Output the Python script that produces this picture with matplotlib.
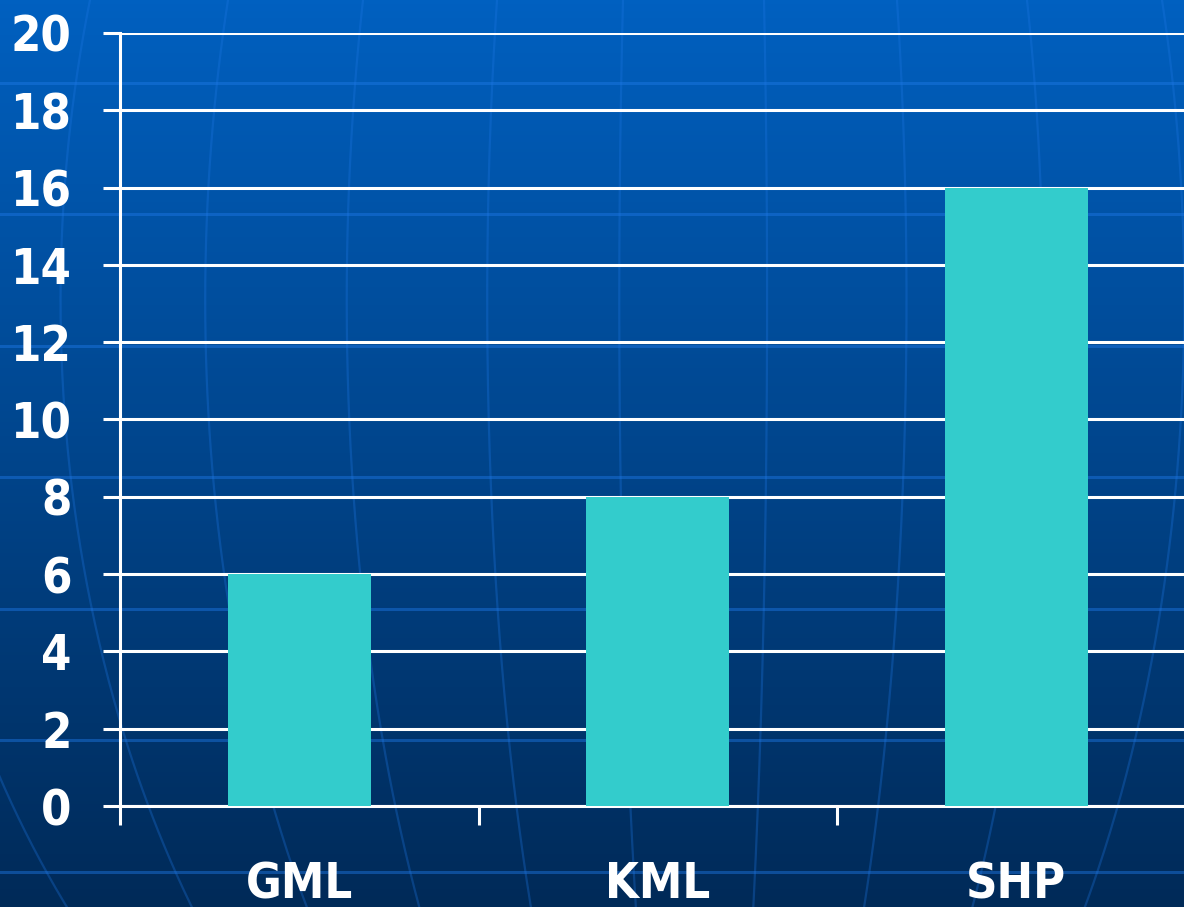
import numpy as np
import matplotlib
matplotlib.use("Agg")
import matplotlib.pyplot as plt
from matplotlib import font_manager

# Data
categories = ["GML", "KML", "SHP"]
values = [6, 8, 16]
y_ticks = [0, 2, 4, 6, 8, 10, 12, 14, 16, 18, 20]

W, H = 1184, 907
fig = plt.figure(figsize=(W / 100, H / 100), dpi=100)

# Background: blue gradient with a faint globe grid
bg = fig.add_axes([0, 0, 1, 1], zorder=-1)
grad = np.linspace(0, 1, 256).reshape(-1, 1)
top = np.array([0x00, 0x60, 0xC0]) / 255
bot = np.array([0x00, 0x2A, 0x58]) / 255
img = top + (bot - top) * grad[..., None]
bg.imshow(img, extent=[0, W, H, 0], aspect="auto")
for yy in [83, 214, 346, 477, 609, 740, 872]:
    bg.plot([0, W], [yy, yy], color="#1E78E6", alpha=0.45, lw=2.2)
ys = np.linspace(-20, H + 20, 200)
cx, cy, R = 700, 300, 1000
w = np.sqrt(R**2 - (ys - cy) ** 2) / np.sqrt(R**2 - cy**2)
for xt in [-60, 90, 228, 363, 497, 623, 764, 897, 1027, 1162, 1300]:
    bg.plot(cx + (xt - cx) * w, ys, color="#1E78E6", alpha=0.3, lw=1.6)
bg.set_xlim(0, W)
bg.set_ylim(H, 0)
bg.axis("off")

# Main chart
ax = fig.add_axes([120 / W, 101 / H, 1075.5 / W, 773 / H])
ax.set_facecolor("none")
x = np.arange(len(categories))
ax.bar(x, values, width=0.4, color="#33CCCC", zorder=3)
ax.set_xlim(-0.5, 2.5)
ax.set_ylim(0, 20)
ax.set_yticks(y_ticks)
ax.yaxis.grid(True, color="white", lw=2.2)
ax.set_axisbelow(True)

ax.set_xticks([-0.5, 0.5, 1.5, 2.5])
ax.set_xticklabels([])
ax.set_xticks(x, minor=True)
ax.set_xticklabels(categories, minor=True)

for s in ["top", "right"]:
    ax.spines[s].set_visible(False)
for s in ["left", "bottom"]:
    ax.spines[s].set_color("white")
    ax.spines[s].set_linewidth(2.2)

lab = dict(family="DejaVu Sans", weight="bold", stretch="condensed", size=35)
ax.tick_params(axis="y", colors="white", length=12, width=2.2, pad=23)
ax.tick_params(axis="x", which="major", colors="white", length=13.5, width=2.2)
ax.tick_params(axis="x", which="minor", colors="white", length=0, pad=39)
for t in ax.get_yticklabels() + ax.get_xticklabels(minor=True):
    t.set_fontproperties(font_manager.FontProperties(**lab))

fig.savefig("out.png", dpi=100)
